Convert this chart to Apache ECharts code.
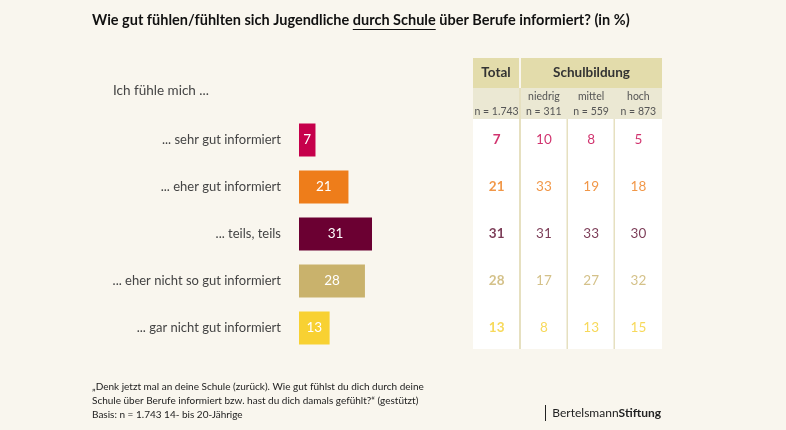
<!DOCTYPE html>
<html>
<head>
<meta charset="utf-8">
<script src="https://cdn.jsdelivr.net/npm/echarts@6/dist/echarts.min.js"></script>
<style>
html,body{margin:0;padding:0;background:#f9f6ee;}
#c{width:786px;height:430px;}
</style>
</head>
<body>
<div id="c"></div>
<script>
const categories = ['... sehr gut informiert', '... eher gut informiert', '... teils, teils', '... eher nicht so gut informiert', '... gar nicht gut informiert'];
const totalValues = [7, 21, 31, 28, 13];
const niedrigValues = [10, 33, 31, 17, 8];
const mittelValues = [8, 19, 33, 27, 13];
const hochValues = [5, 18, 30, 32, 15];
const columnNames = ['', 'niedrig', 'mittel', 'hoch'];
const columnN = ['n = 1.743', 'n = 311', 'n = 559', 'n = 873'];
const rowColors = ['#c6004b', '#ee7d1a', '#6b0032', '#c9b26c', '#f8d132'];
const tableColors = ['#c6004b', '#ee7d1a', '#5a0a2c', '#c9b26c', '#f5cf32'];

const FONT = 'Lato, "Open Sans", sans-serif';
const titleA = 'Wie gut fühlen/fühlten sich Jugendliche ';
const titleU = 'durch Schule';
const titleB = ' über Berufe informiert? (in %)';
const titleFont = 'bold 14.5px ' + FONT;
const mctx = document.createElement('canvas').getContext('2d');
mctx.font = titleFont;
const uStart = 92 + mctx.measureText(titleA).width;
const uEnd = uStart + mctx.measureText(titleU).width;

const tableCols = [totalValues, niedrigValues, mittelValues, hochValues];
const tableData = [];
tableCols.forEach((col, ci) => {
  col.forEach((v, ri) => {
    tableData.push({
      value: [ci, ri, v],
      label: { color: tableColors[ri], fontWeight: ci === 0 ? 'bold' : 'normal' }
    });
  });
});

const chart = echarts.init(document.getElementById('c'), null, { renderer: 'canvas' });
const gridTop = 116.5, gridH = 235;
chart.setOption({
  backgroundColor: '#f9f6ee',
  animation: false,
  textStyle: { fontFamily: FONT },
  graphic: [
    { type: 'text', left: 92, top: 13, style: { text: titleA + titleU + titleB, font: titleFont, fill: '#111' } },
    { type: 'line', shape: { x1: uStart, y1: 29.5, x2: uEnd, y2: 29.5 }, style: { stroke: '#111', lineWidth: 1 } },
    { type: 'text', left: 113, top: 84, style: { text: 'Ich fühle mich ...', font: '13.5px ' + FONT, fill: '#444' } },
    // table backgrounds
    { type: 'rect', shape: { x: 473, y: 58, width: 46, height: 30 }, style: { fill: '#e3dcab' } },
    { type: 'rect', shape: { x: 521, y: 58, width: 141, height: 30 }, style: { fill: '#e3dcab' } },
    { type: 'rect', shape: { x: 473, y: 88, width: 46, height: 31 }, style: { fill: '#ebe8d3' } },
    { type: 'rect', shape: { x: 521, y: 88, width: 141, height: 31 }, style: { fill: '#ebe8d3' } },
    { type: 'rect', shape: { x: 473, y: 119, width: 189, height: 230 }, style: { fill: '#ffffff' } },
    { type: 'rect', shape: { x: 519, y: 88, width: 2, height: 261 }, style: { fill: '#e6e0c0' } },
    { type: 'rect', shape: { x: 566.5, y: 119, width: 1.5, height: 230 }, style: { fill: '#e6e0c0' } },
    { type: 'rect', shape: { x: 613.5, y: 119, width: 1.5, height: 230 }, style: { fill: '#e6e0c0' } },
    { type: 'text', x: 496, y: 73, style: { text: 'Total', font: 'bold 13.5px ' + FONT, fill: '#333', align: 'center', verticalAlign: 'middle' } },
    { type: 'text', x: 591.5, y: 73, style: { text: 'Schulbildung', font: 'bold 13.5px ' + FONT, fill: '#333', align: 'center', verticalAlign: 'middle' } },
    // footnote
    { type: 'text', left: 92, top: 380, style: { text: '„Denk jetzt mal an deine Schule (zurück). Wie gut fühlst du dich durch deine\nSchule über Berufe informiert bzw. hast du dich damals gefühlt?“ (gestützt)\nBasis: n = 1.743 14- bis 20-Jährige', font: '10px ' + FONT, fill: '#222', lineHeight: 14 } },
    // logo
    { type: 'line', shape: { x1: 545.5, y1: 405, x2: 545.5, y2: 421 }, style: { stroke: '#222', lineWidth: 1 } },
    { type: 'text', x: 661, y: 413, style: { text: '{a|Bertelsmann}{b|Stiftung}', align: 'right', verticalAlign: 'middle', rich: { a: { font: '12px ' + FONT, fill: '#222' }, b: { font: 'bold 12px ' + FONT, fill: '#222' } } } }
  ],
  grid: [
    { left: 299, top: gridTop, width: 40 * 2.355, height: gridH },
    { left: 473, top: gridTop, width: 189, height: gridH }
  ],
  xAxis: [
    { gridIndex: 0, type: 'value', min: 0, max: 40, show: false },
    { gridIndex: 1, type: 'category', position: 'top', data: columnNames,
      axisLine: { show: false }, axisTick: { show: false }, splitLine: { show: false },
      axisLabel: { margin: -3, fontFamily: FONT, interval: 0,
        formatter: (v, i) => '{a|' + (v || ' ') + '}\n{b|' + columnN[i] + '}',
        rich: { a: { fontSize: 10.5, color: '#555', lineHeight: 15, fontFamily: FONT }, b: { fontSize: 10.5, color: '#555', lineHeight: 15, fontFamily: FONT } } } }
  ],
  yAxis: [
    { gridIndex: 0, type: 'category', inverse: true, data: categories,
      axisLine: { show: false }, axisTick: { show: false }, splitLine: { show: false },
      axisLabel: { margin: 18, fontSize: 13, color: '#444', fontFamily: FONT } },
    { gridIndex: 1, type: 'category', inverse: true, data: categories, show: false }
  ],
  series: [
    { type: 'bar', xAxisIndex: 0, yAxisIndex: 0, barWidth: 33,
      data: totalValues.map((v, i) => ({ value: v, itemStyle: { color: rowColors[i] } })),
      label: { show: true, position: 'inside', color: '#fff', fontSize: 13.5, fontFamily: FONT } },
    { type: 'scatter', xAxisIndex: 1, yAxisIndex: 1, symbolSize: 0, data: tableData,
      label: { show: true, position: 'inside', fontSize: 13.5, fontFamily: FONT, formatter: p => p.value[2] } }
  ]
});
</script>
</body>
</html>
